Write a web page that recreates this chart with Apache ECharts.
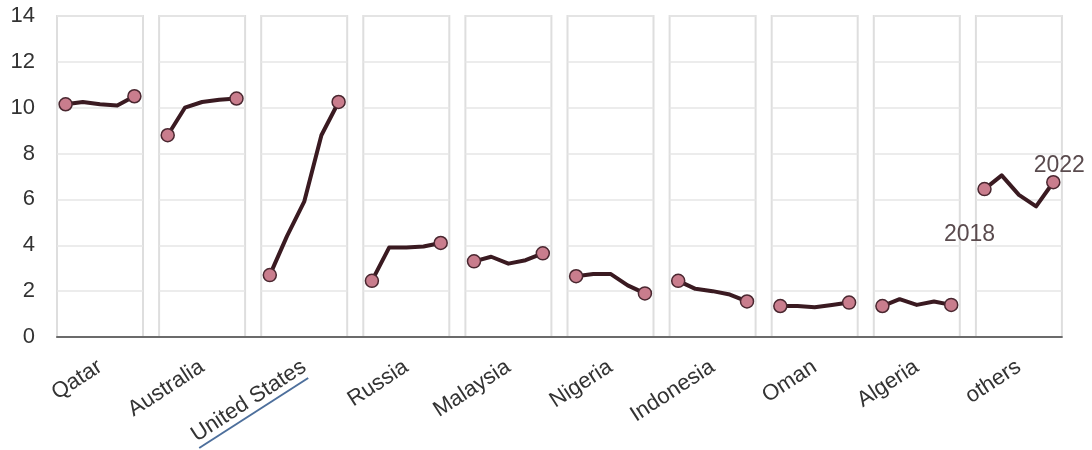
<!DOCTYPE html>
<html>
<head>
<meta charset="utf-8">
<script src="https://cdn.jsdelivr.net/npm/echarts@6/dist/echarts.min.js"></script>
<style>
html,body{margin:0;padding:0;background:#fff;}
#chart{width:1092px;height:450px;}
</style>
</head>
<body>
<div id="chart"></div>
<script>
var countries = ['Qatar','Australia','United States','Russia','Malaysia','Nigeria','Indonesia','Oman','Algeria','others'];
var years = ['2018','2019','2020','2021','2022'];
var yTicks = [0, 14, 2];
var qatar     = [10.15, 10.25, 10.15, 10.1, 10.5];
var australia = [8.8, 10.0, 10.25, 10.35, 10.4];
var unitedStates = [2.7, 4.4, 5.9, 8.8, 10.25];
var russia    = [2.45, 3.9, 3.9, 3.95, 4.1];
var malaysia  = [3.3, 3.5, 3.2, 3.35, 3.65];
var nigeria   = [2.65, 2.75, 2.75, 2.25, 1.9];
var indonesia = [2.45, 2.1, 2.0, 1.85, 1.55];
var oman      = [1.35, 1.35, 1.3, 1.4, 1.5];
var algeria   = [1.35, 1.65, 1.4, 1.55, 1.4];
var others    = [6.45, 7.05, 6.2, 5.7, 6.75];
var seriesValues = [qatar, australia, unitedStates, russia, malaysia, nigeria, indonesia, oman, algeria, others];

var chart = echarts.init(document.getElementById('chart'), null, {renderer:'canvas'});
var FONT = 'Liberation Sans, Arial, sans-serif';
var TOP = 16, H = 321, LEFT = 57, STEP = 102.1, PW = 86;

var grids = [], xAxes = [], yAxes = [], series = [];
for (var i = 0; i < countries.length; i++) {
  grids.push({left: LEFT + i*STEP, top: TOP, width: PW, height: H, show: true,
    borderColor: '#dedede', borderWidth: 2, backgroundColor: '#fff'});
  xAxes.push({gridIndex: i, type: 'category', data: years, boundaryGap: true,
    axisLine:{show:false}, axisTick:{show:false}, axisLabel:{show:false}, splitLine:{show:false}});
  yAxes.push({gridIndex: i, type: 'value', min: yTicks[0], max: yTicks[1], interval: yTicks[2],
    axisLine:{show:false}, axisTick:{show:false}, axisLabel:{show:false},
    splitLine:{show:true, lineStyle:{color:'#e6e6e6', width:1.5}}});
  var isOthers = (i === countries.length - 1);
  series.push({
    type: 'line', xAxisIndex: i, yAxisIndex: i, name: countries[i],
    data: seriesValues[i],
    symbol: 'circle',
    symbolSize: function (v, p) { return (p.dataIndex === 0 || p.dataIndex === 4) ? 13 : 0; },
    showAllSymbol: true,
    lineStyle: {color: '#3a1a21', width: 4, join: 'round', cap: 'round'},
    itemStyle: {color: '#c97d8d', borderColor: '#4a2730', borderWidth: 1.5},
    z: 5,
    label: {show: isOthers, position: 'inside', fontSize: 23, fontFamily: FONT, color: '#5a4b4e',
      formatter: function (p) {
        if (p.dataIndex === 0) return years[0];
        if (p.dataIndex === years.length - 1) return years[years.length - 1];
        return '';
      }},
    labelLayout: isOthers ? function (p) {
      if (p.dataIndex === 0) return {dx: -15, dy: 46};
      if (p.dataIndex === years.length - 1) return {dx: 6, dy: -17};
      return {};
    } : undefined,
    animation: false
  });
}
// base grid: y-axis labels + continuous baseline
var bi = countries.length;
grids.push({left: LEFT, top: TOP, width: (countries.length - 1)*STEP + PW, height: H, show:false});
xAxes.push({gridIndex: bi, type: 'value', min: 0, max: 1, z: 6,
  axisLine:{show:true, onZero:false, lineStyle:{color:'#6b6b6b', width:2}}, axisTick:{show:false},
  axisLabel:{show:false}, splitLine:{show:false}});
yAxes.push({gridIndex: bi, type: 'value', min: yTicks[0], max: yTicks[1], interval: yTicks[2],
  axisLine:{show:false}, axisTick:{show:false}, splitLine:{show:false},
  axisLabel:{show:true, fontSize: 22, fontFamily: FONT, color:'#333', margin: 22}});
// label grid: country category labels centered on panels
var li = countries.length + 1;
grids.push({left: LEFT - (STEP - PW)/2, top: TOP, width: countries.length*STEP, height: H, show:false});
xAxes.push({gridIndex: li, type: 'category', data: countries, boundaryGap: true,
  axisLine:{show:false}, axisTick:{show:false}, splitLine:{show:false},
  axisLabel:{show:true, interval: 0, rotate: 33, fontSize: 22, fontFamily: FONT, color:'#333', margin: 28}});
yAxes.push({gridIndex: li, type: 'value', min: 0, max: 14, show: false});

chart.setOption({
  backgroundColor: '#fff',
  animation: false,
  grid: grids, xAxis: xAxes, yAxis: yAxes, series: series
});

// underline under the "United States" tick label
var px = chart.convertToPixel({xAxisIndex: li}, 'United States');
var py = chart.convertToPixel({yAxisIndex: bi}, 0);
chart.setOption({
  graphic: [{type: 'line', shape: {x1: px - 105, y1: py + 111, x2: px + 4, y2: py + 41},
    style: {stroke: '#4d6f9c', lineWidth: 2}, silent: true}]
});
</script>
</body>
</html>
